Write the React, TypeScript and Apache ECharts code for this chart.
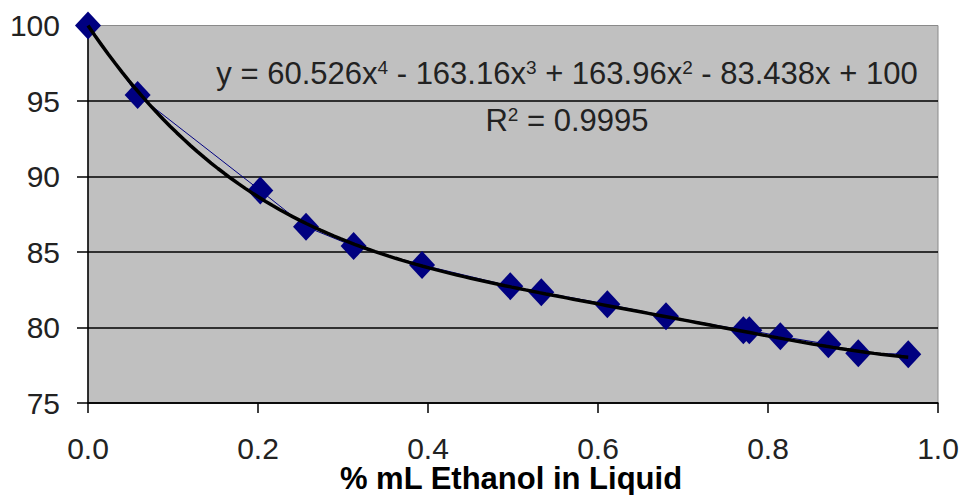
import React, { useEffect, useRef } from "react";
import * as echarts from "echarts";

// Measured fraction of ethanol (mL) in the liquid and the corresponding temperature readings
const ethanolFraction = [
  0.0, 0.0584, 0.2027, 0.2565, 0.3125, 0.393, 0.4968, 0.5333, 0.611, 0.68,
  0.771, 0.778, 0.8145, 0.871, 0.9062, 0.965,
];
const temperature = [
  100, 95.4, 89.07, 86.67, 85.39, 84.14, 82.74, 82.34, 81.54, 80.75, 79.82,
  79.82, 79.42, 78.89, 78.3, 78.23,
];

// 4th-order polynomial trendline coefficients, highest power first
const trendCoefficients = [60.526, -163.16, 163.96, -83.438, 100];
const trendR2 = 0.9995;

const xTicks = [0, 0.2, 0.4, 0.6, 0.8, 1.0];
const yTicks = [75, 80, 85, 90, 95, 100];
const xAxisTitle = "% mL Ethanol in Liquid";

const FONT = "'Liberation Sans', Arial, sans-serif";

function evalTrend(x: number): number {
  return trendCoefficients.reduce((acc, c) => acc * x + c, 0);
}

function trendPoints(): [number, number][] {
  const pts: [number, number][] = [];
  const xMax = ethanolFraction[ethanolFraction.length - 1];
  const steps = 120;
  for (let i = 0; i <= steps; i++) {
    const x = (xMax * i) / steps;
    pts.push([x, evalTrend(x)]);
  }
  return pts;
}

function fmtCoef(c: number, first: boolean): string {
  const sign = c < 0 ? " - " : first ? "" : " + ";
  return sign + String(Math.abs(c));
}

export default function App() {
  const ref = useRef<HTMLDivElement>(null);

  useEffect(() => {
    if (!ref.current) return;
    const chart = echarts.init(ref.current, undefined, { renderer: "svg" });

    const [a4, a3, a2, a1, a0] = trendCoefficients;
    const eqText =
      "y = " +
      String(a4) +
      "x{sup|4}" +
      fmtCoef(a3, false) +
      "x{sup|3}" +
      fmtCoef(a2, false) +
      "x{sup|2}" +
      fmtCoef(a1, false) +
      "x" +
      fmtCoef(a0, false);

    const supStyle = {
      fontFamily: FONT,
      fontSize: 19,
      lineHeight: 19,
      verticalAlign: "top",
      fill: "#222",
    };

    chart.setOption({
      animation: false,
      backgroundColor: "#ffffff",
      grid: {
        left: 88,
        top: 25.5,
        right: 23,
        bottom: 92,
        outerBoundsMode: "none",
        containLabel: false,
        show: true,
        backgroundColor: "#C0C0C0",
        borderColor: "#8a8a8a",
        borderWidth: 1,
      },
      xAxis: {
        type: "value",
        min: xTicks[0],
        max: xTicks[xTicks.length - 1],
        interval: 0.2,
        axisLine: { show: true, onZero: false, lineStyle: { color: "#000", width: 1.5 } },
        axisTick: { show: true, inside: false, length: 10, lineStyle: { color: "#000", width: 1.5 } },
        axisLabel: {
          fontFamily: FONT,
          fontSize: 30,
          lineHeight: 24,
          color: "#222",
          margin: 33,
          formatter: (v: number) => v.toFixed(1),
        },
        splitLine: { show: false },
      },
      yAxis: {
        type: "value",
        min: yTicks[0],
        max: yTicks[yTicks.length - 1],
        interval: 5,
        axisLine: { show: true, onZero: false, lineStyle: { color: "#000", width: 1.5 } },
        axisTick: { show: true, inside: false, length: 11, lineStyle: { color: "#000", width: 1.5 } },
        axisLabel: {
          fontFamily: FONT,
          fontSize: 30,
          color: "#222",
          margin: 28,
        },
        splitLine: {
          show: true,
          showMaxLine: false,
          lineStyle: { color: "#000", width: 1.5 },
        },
      },
      series: [
        {
          name: "Temperature",
          type: "line",
          data: ethanolFraction.map((x, i) => [x, temperature[i]]),
          symbol: "diamond",
          symbolSize: [26, 28],
          showSymbol: true,
          itemStyle: { color: "#000080" },
          lineStyle: { color: "#000080", width: 1 },
          z: 2,
        },
        {
          name: "Poly. (Temperature)",
          type: "line",
          data: trendPoints(),
          showSymbol: false,
          symbol: "none",
          smooth: false,
          lineStyle: { color: "#000", width: 3.5 },
          z: 3,
        },
      ],
      graphic: [
        {
          type: "text",
          x: 567,
          y: 73,
          z: 10,
          style: {
            text: eqText,
            fontFamily: FONT,
            fontSize: 31,
            fill: "#222",
            align: "center",
            verticalAlign: "middle",
            rich: { sup: supStyle },
          },
        },
        {
          type: "text",
          x: 567,
          y: 120,
          z: 10,
          style: {
            text: "R{sup|2} = " + trendR2.toFixed(4),
            fontFamily: FONT,
            fontSize: 31,
            fill: "#222",
            align: "center",
            verticalAlign: "middle",
            rich: { sup: supStyle },
          },
        },
        {
          type: "text",
          x: 511,
          y: 478,
          z: 10,
          style: {
            text: xAxisTitle,
            fontFamily: FONT,
            fontSize: 31,
            lineHeight: 28,
            fontWeight: "bold",
            fill: "#000",
            align: "center",
            verticalAlign: "middle",
          },
        },
      ],
    });

    return () => chart.dispose();
  }, []);

  return (
    <div
      ref={ref}
      style={{ position: "absolute", left: 0, top: 0, width: 961, height: 495 }}
    />
  );
}
